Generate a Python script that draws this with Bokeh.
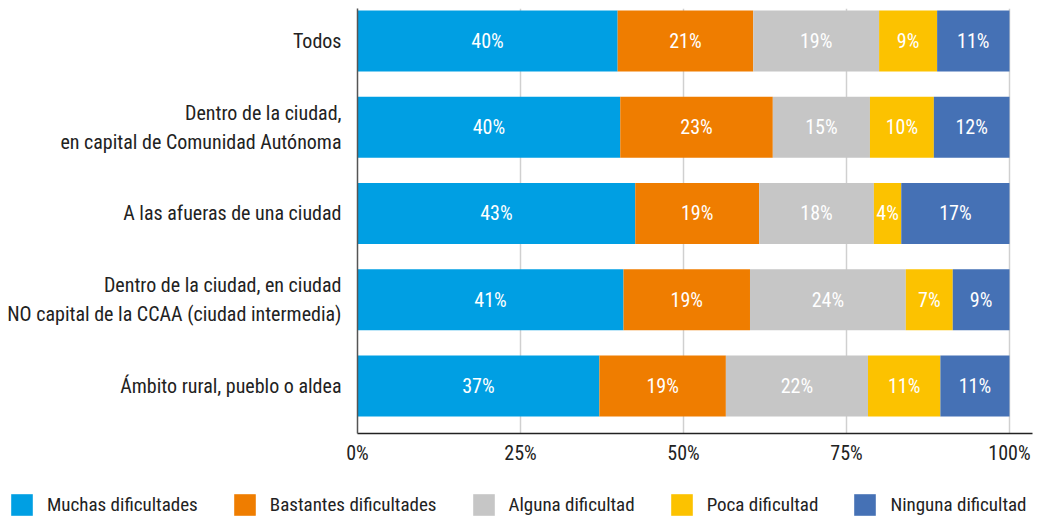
from bokeh.plotting import figure
from bokeh.models import Range1d, FixedTicker, Legend, LegendItem, ColumnDataSource
from bokeh.layouts import column
from bokeh.core.properties import value
from bokeh.embed import file_html
from bokeh.resources import INLINE

categories = [
    "Todos",
    "Dentro de la ciudad,\nen capital de Comunidad Autónoma",
    "A las afueras de una ciudad",
    "Dentro de la ciudad, en ciudad\nNO capital de la CCAA (ciudad intermedia)",
    "Ámbito rural, pueblo o aldea",
]
series = ["Muchas dificultades", "Bastantes dificultades", "Alguna dificultad",
          "Poca dificultad", "Ninguna dificultad"]
muchas = [39.9, 40.3, 42.6, 40.8, 37.1]
bastantes = [20.8, 23.4, 19.0, 19.4, 19.4]
alguna = [19.3, 14.9, 17.6, 23.9, 21.8]
poca = [8.9, 9.8, 4.2, 7.2, 11.1]
ninguna = [11.1, 11.6, 16.6, 8.7, 10.6]
colors = ["#009FE3", "#EF7D00", "#C6C6C6", "#FCC200", "#4571B5"]
x_ticks = [0, 25, 50, 75, 100]
x_tick_labels = ["0%", "25%", "50%", "75%", "100%"]

FONT = "Roboto Condensed, Roboto"
FS = "20px"

n = len(categories)
ypos = [n - 1 - i for i in range(n)]

p = figure(width=1042, height=470,
           x_range=Range1d(0, 103.53), y_range=Range1d(-0.551, 4.377),
           output_backend="svg", toolbar_location=None,
           min_border_left=357, min_border_right=10,
           min_border_top=8, min_border_bottom=37)
p.outline_line_color = None

values = [muchas, bastantes, alguna, poca, ninguna]
left = [0.0] * n
for name, vals, col in zip(series, values, colors):
    right = [l + v for l, v in zip(left, vals)]
    src = ColumnDataSource(dict(
        y=ypos, left=left, right=right,
        mid=[(l + r) / 2 for l, r in zip(left, right)],
        lab=[f"{round(v)}%" for v in vals],
    ))
    p.hbar(y="y", left="left", right="right", height=0.707,
           fill_color=col, line_color=None, source=src)
    p.text(x="mid", y="y", text="lab", source=src, text_color="white",
           text_align="center", text_baseline="middle",
           text_font=value(FONT), text_font_size=FS)
    left = right

# axes
p.xaxis.ticker = FixedTicker(ticks=x_ticks)
p.xaxis.major_label_overrides = {t: l for t, l in zip(x_ticks, x_tick_labels)}
p.xaxis.major_tick_in = 0
p.xaxis.major_tick_out = 0
p.xaxis.minor_tick_line_color = None
p.xaxis.axis_line_color = "#222222"
p.xaxis.axis_line_width = 1.5
p.xaxis.major_label_standoff = 7
p.xaxis.major_label_text_font = FONT
p.xaxis.major_label_text_font_size = FS
p.xaxis.major_label_text_color = "#222222"

p.yaxis.ticker = FixedTicker(ticks=ypos)
p.yaxis.major_label_overrides = {y: c for y, c in zip(ypos, categories)}
p.yaxis.major_tick_in = 0
p.yaxis.major_tick_out = 0
p.yaxis.minor_tick_line_color = None
p.yaxis.axis_line_color = "#555555"
p.yaxis.axis_line_width = 1.5
p.yaxis.major_label_standoff = 16
p.yaxis.major_label_text_font = FONT
p.yaxis.major_label_text_font_size = FS
p.yaxis.major_label_text_color = "#222222"

p.xgrid.ticker = FixedTicker(ticks=[25, 50, 75, 100])
p.xgrid.grid_line_color = "#D0D0D0"
p.xgrid.grid_line_width = 1.5
p.ygrid.grid_line_color = None

# legend in its own strip below the chart
lg = figure(width=1042, height=48, x_range=Range1d(0, 1), y_range=Range1d(0, 1),
            output_backend="svg", toolbar_location=None,
            x_axis_type=None, y_axis_type=None, min_border=0)
for fig in (p, lg):
    if "frame_align" in fig.properties():
        fig.frame_align = False
lg.outline_line_color = None
lg.xgrid.visible = False
lg.ygrid.visible = False
items = []
for name, col in zip(series, colors):
    # zero-size placeholder bar: only its legend swatch is shown
    r = lg.hbar(y=[0.5], left=[0], right=[0], height=0, fill_color=col, line_color=None)
    items.append(LegendItem(label=name, renderers=[r]))
legend = Legend(items=items, orientation="horizontal", location=(8, 0),
                glyph_width=27, glyph_height=27, label_standoff=12, spacing=33,
                padding=0, margin=0, border_line_alpha=0, background_fill_alpha=0,
                label_text_font=FONT, label_text_font_size="19px",
                label_text_color="#222222", label_height=27)
lg.add_layout(legend, "center")

open("out.html", "w").write(file_html(column(p, lg, spacing=0), INLINE))
